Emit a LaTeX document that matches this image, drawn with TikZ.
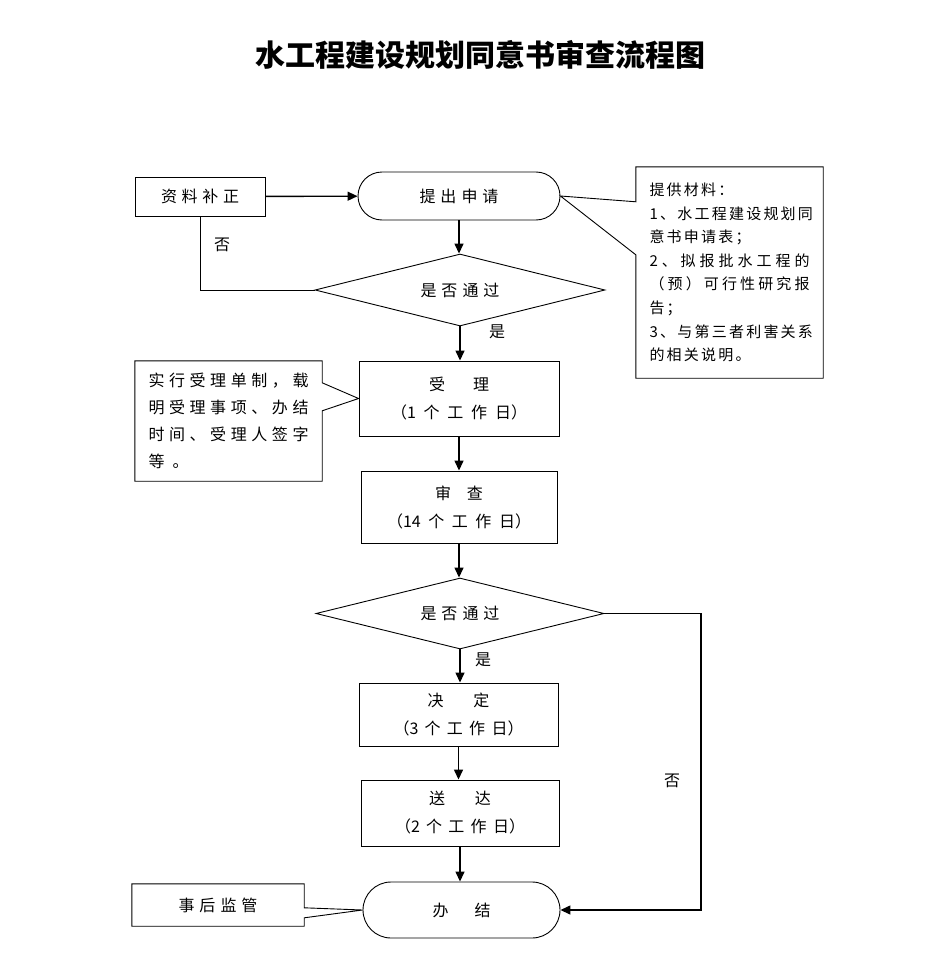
\documentclass[tikz,border=0pt]{standalone}
\usepackage{fontspec}
\setmainfont{Noto Sans CJK SC}
\usetikzlibrary{arrows.meta,shapes.geometric,shapes.misc}
\newcommand\spread[2]{\makebox[#1pt][s]{#2}}
\begin{document}
\begin{tikzpicture}[x=1pt,y=-1pt,
  sbox/.style={draw,line width=0.9pt,inner sep=0pt,align=center,font=\fontsize{16}{28}\selectfont},
  term/.style={sbox,rounded rectangle},
  dec/.style={sbox,diamond,aspect=4,minimum width=290,minimum height=72},
  note/.style={inner sep=0pt,align=left},
  outline/.style={line width=0.9pt,line join=miter},
  flow/.style={line width=1.4pt,-{Triangle[length=10pt,width=9pt]}},
  link/.style={line width=1pt},
  lbl/.style={font=\fontsize{16}{16}\selectfont}]
\useasboundingbox (0,0) rectangle (933,955);
\node[font=\fontsize{30}{30}\selectfont\bfseries] (ttl) at (480,55) {水工程建设规划同意书审查流程图};
%% main column
\node[term,minimum width=202,minimum height=48] (req) at (459,196) {\spread{79}{提 出 申 请}};
\node[sbox,minimum width=130,minimum height=39] (fix) at (200,196.5) {\spread{78}{资 料 补 正}};
\node[dec] (chk1) at (460,290) {\spread{79}{是 否 通 过}};
\node[sbox,minimum width=200,minimum height=75] (acc) at (459,398.5) {\spread{60}{受 理}\\\spread{136}{（1 个 工 作 日）}};
\node[sbox,minimum width=196,minimum height=72] (rev) at (459,507) {\spread{48}{审 查}\\\spread{144}{（14 个 工 作 日）}};
\node[dec,minimum width=288,minimum height=71] (chk2) at (460,613.5) {\spread{79}{是 否 通 过}};
\node[sbox,minimum width=199,minimum height=63] (dcs) at (458.5,714.5) {\spread{62}{决 定}\\\spread{130}{（3 个 工 作 日）}};
\node[sbox,minimum width=198,minimum height=66] (dlv) at (460,813) {\spread{62}{送 达}\\\spread{130}{（2 个 工 作 日）}};
\node[term,minimum width=197,minimum height=56] (fin) at (461.5,910) {\spread{58}{办 结}};
%% notes
\node[note,minimum width=187,minimum height=211,font=\fontsize{15}{23.6}\selectfont] (mat) at (729.5,272.5)
  {\spread{80}{提 供 材 料 ：}\\\spread{160}{1 、 水 工 程 建 设 规 划 同}\\\spread{96}{意 书 申 请 表 ；}\\
   \spread{160}{2 、 拟 报 批 水 工 程 的}\\\spread{160}{（ 预 ） 可 行 性 研 究 报}\\\spread{32}{告 ；}\\
   \spread{160}{3 、 与 第 三 者 利 害 关 系}\\\spread{96}{的 相 关 说 明 。}};
\node[note,minimum width=187,minimum height=120,font=\fontsize{16}{27}\selectfont] (memo) at (228.5,421)
  {\spread{160}{实 行 受 理 单 制 ， 载}\\\spread{160}{明 受 理 事 项 、 办 结}\\\spread{160}{时 间 、 受 理 人 签 字}\\\spread{40}{等 。}};
\node[note,minimum width=172,minimum height=42,font=\fontsize{16}{16}\selectfont] (sup) at (218,905) {\spread{79}{事 后 监 管}};
\draw[outline] (mat.north west) -- (mat.north east) -- (mat.south east) -- (mat.south west)
  -- ([yshift=-88pt]mat.north west) -- (req.east) -- ([yshift=-35pt]mat.north west) -- cycle;
\draw[outline] (memo.north west) -- (memo.north east) -- ([yshift=-22pt]memo.north east) -- (acc.west)
  -- ([yshift=-50pt]memo.north east) -- (memo.south east) -- (memo.south west) -- cycle;
\draw[outline] (sup.north west) -- (sup.north east) -- ([yshift=-24pt]sup.north east) -- (fin.west)
  -- ([yshift=-34pt]sup.north east) -- (sup.south east) -- (sup.south west) -- cycle;
%% connectors
\draw[flow] (fix) -- (req);
\draw[flow] (req.south) -- (req.south |- chk1.north);
\draw[link] (chk1.west) -| (fix.south);
\draw[flow] (chk1.south) -- (chk1.south |- acc.north);
\draw[flow] (acc.south) -- (acc.south |- rev.north);
\draw[flow] (rev.south) -- (rev.south |- chk2.north);
\draw[flow] (chk2.south) -- (chk2.south |- dcs.north);
\draw[flow] (dcs.south) -- (dcs.south |- dlv.north);
\draw[flow] (dlv.south) -- (dlv.south |- fin.north);
\coordinate (rgt) at (701,613.5);
\draw[flow] (chk2.east) -- (rgt) |- (fin.east);
%% labels
\node[lbl] (no1) at (222,245) {否};
\node[lbl] (yes1) at (497,332) {是};
\node[lbl] (yes2) at (483,660) {是};
\node[lbl] (no2) at (672,781) {否};
\end{tikzpicture}
\end{document}
